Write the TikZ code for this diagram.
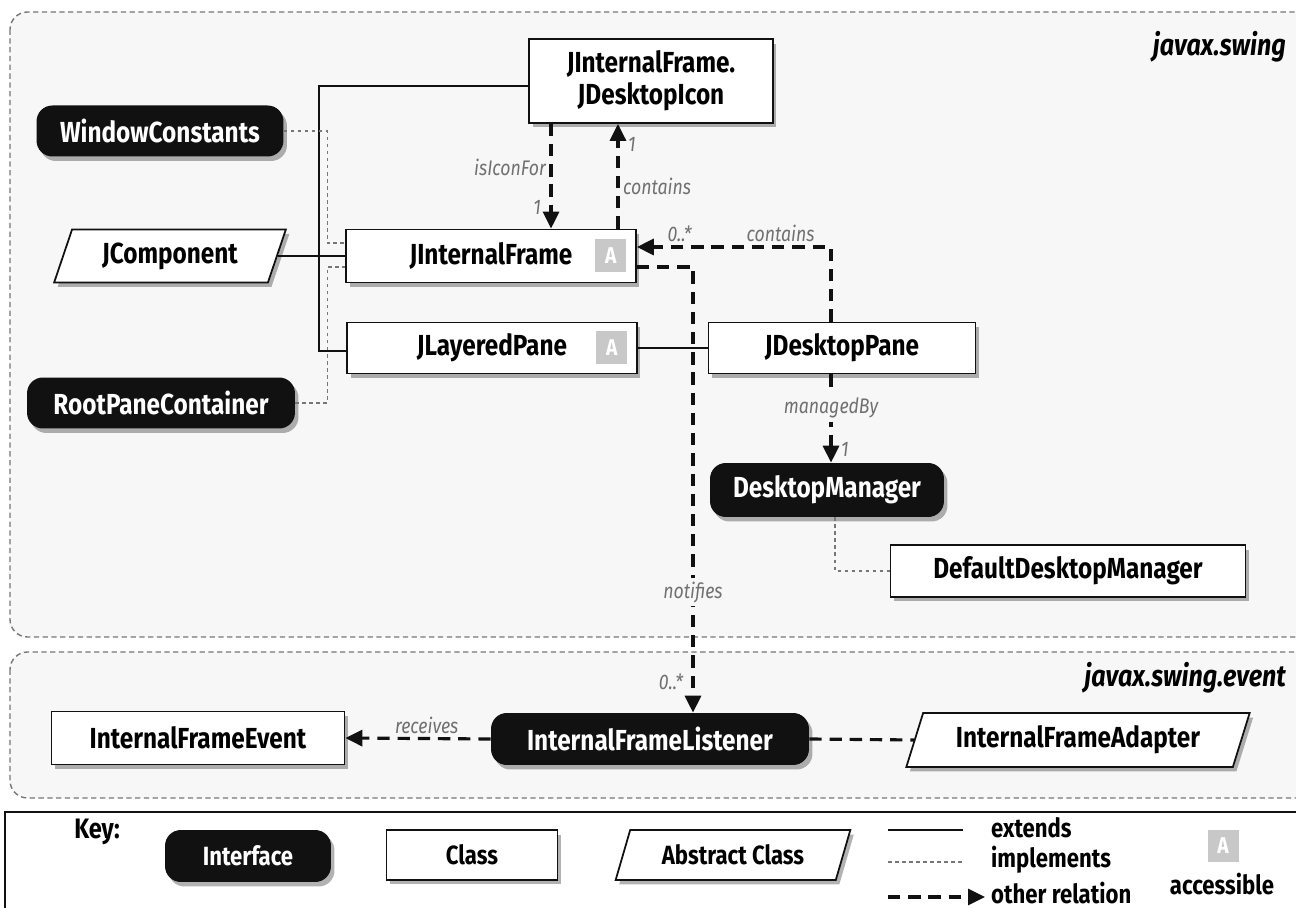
\documentclass[tikz,border=0pt]{standalone}
\usepackage{fontspec}
\setmainfont{Fira Sans}[FakeStretch=0.84]
\usepackage{tikz}
\usetikzlibrary{shapes.geometric, arrows.meta, positioning, calc, shadows}
\definecolor{swingink}{HTML}{111111}
\definecolor{swinglabel}{HTML}{707070}
\definecolor{swingacc}{HTML}{C8C8C8}
\definecolor{swingpkg}{HTML}{F7F7F7}
\definecolor{swingdots}{HTML}{777777}

\tikzset{
    shade/.style={drop shadow={shadow xshift=0.07cm, shadow yshift=-0.09cm, opacity=0.3, fill=black}},
    typename/.style={font=\bfseries\fontsize{16.5}{18}\selectfont, inner sep=2pt},
    iface/.style={typename, shade, fill=swingink, text=white, rounded corners=9pt},
    classbox/.style={typename, shade, draw=swingink, line width=1pt, fill=white},
    abstractbox/.style={typename, shade, draw=swingink, line width=1pt, fill=white, trapezium, trapezium left angle=69, trapezium right angle=111, trapezium stretches=true},
    accbox/.style={fill=swingacc, text=white, font=\bfseries\fontsize{13}{14}\selectfont, minimum width=0.62cm, minimum height=0.66cm, inner sep=0pt},
    extends/.style={draw=swingink, line width=1pt},
    implements/.style={draw=swingdots, line width=0.6pt, dash pattern=on 2pt off 2pt},
    other/.style={draw=swingink, line width=1.8pt, dash pattern=on 7pt off 4.5pt},
    otherarrow/.style={other, -{Triangle[length=0.34cm, width=0.32cm]}},
    rolelabel/.style={font=\itshape\fontsize{12}{14}\selectfont, text=swinglabel, inner sep=2pt},
    pkgname/.style={font=\bfseries\itshape\fontsize{17}{19}\selectfont, anchor=east},
    package/.style={draw=swingdots, line width=0.8pt, dash pattern=on 3pt off 2pt, rounded corners=10pt, fill=swingpkg}
}

\begin{document}
\begin{tikzpicture}[x=0.02cm, y=-0.02cm]
    \useasboundingbox[fill=white] (0,0) rectangle (1296,908);

    % packages
    \draw[package] (10,12) rectangle (1330,637);
    \draw[package] (10,652) rectangle (1330,798);
    \draw[draw=swingink, line width=0.8pt, fill=white] (5,812) rectangle (1330,930);
    \node[pkgname] (pkgswing) at (1292,47) {javax.swing};
    \node[pkgname] (pkgevent) at (1292,678) {javax.swing.event};

    % javax.swing
    \node[classbox, minimum width=4.88cm, minimum height=1.68cm, align=center] (icon) at (651,81) {JInternalFrame.\\JDesktopIcon};
    \node[iface, minimum width=4.94cm, minimum height=1.02cm] (wconst) at (160,131) {WindowConstants};
    \node[abstractbox, minimum width=4.64cm, minimum height=1.06cm] (jcomp) at (170,256) {JComponent};
    \node[classbox, minimum width=5.8cm, minimum height=1.06cm] (iframe) at (491,256) {JInternalFrame};
    \node[accbox] (iframeacc) at ([xshift=-0.52cm]iframe.east) {A};
    \node[classbox, minimum width=5.8cm, minimum height=1.02cm] (lpane) at (492,348) {JLayeredPane};
    \node[accbox] (lpaneacc) at ([xshift=-0.52cm]lpane.east) {A};
    \node[iface, minimum width=5.36cm, minimum height=1.02cm] (rpc) at (161,403) {RootPaneContainer};
    \node[classbox, minimum width=5.34cm, minimum height=1.02cm] (dpane) at (842,348) {JDesktopPane};
    \node[iface, minimum width=4.68cm, minimum height=1.08cm] (dmgr) at (827,490) {DesktopManager};
    \node[classbox, minimum width=7.1cm, minimum height=1.04cm] (ddmgr) at (1068,571) {DefaultDesktopManager};

    % javax.swing.event
    \node[classbox, minimum width=5.86cm, minimum height=1.06cm] (ifevent) at (198,738) {InternalFrameEvent};
    \node[iface, minimum width=6.36cm, minimum height=1.04cm] (iflisten) at (650,739) {InternalFrameListener};
    \node[abstractbox, minimum width=6.88cm, minimum height=1.08cm] (ifadapter) at (1078,740) {InternalFrameAdapter};

    % extends
    \coordinate (trunk) at (319,256);
    \draw[extends] (jcomp.east) -- (iframe.west);
    \draw[extends] ([yshift=-0.1cm]icon.west) -| (trunk) |- ([yshift=-0.06cm]lpane.west);
    \draw[extends] (lpane.east) -- (dpane.west);

    % implements
    \draw[implements] (wconst.east) -| ([xshift=-0.36cm, yshift=0.26cm]iframe.west) -- ([yshift=0.26cm]iframe.west);
    \draw[implements] (rpc.east) -| ([xshift=-0.36cm, yshift=-0.22cm]iframe.west) -- ([yshift=-0.22cm]iframe.west);
    \draw[implements] ([xshift=0.16cm]dmgr.south) |- (ddmgr.west);

    % other relations
    \draw[otherarrow] ([xshift=-2cm]icon.south) -- ([xshift=-2cm]icon.south |- iframe.north)
        node[rolelabel, left, pos=0.42] (lbliconfor) {isIconFor}
        node[rolelabel, left, pos=0.8, xshift=-0.1cm] (multiconfor) {1};
    \draw[otherarrow] ([xshift=2.54cm]iframe.north) -- ([xshift=2.54cm]iframe.north |- icon.south)
        node[rolelabel, right, pos=0.4] (lblcontains) {contains}
        node[rolelabel, right, pos=0.8, xshift=0.1cm] (multcontains) {1};
    \draw[otherarrow] ([xshift=-0.22cm]dpane.north) |- ([yshift=0.18cm]iframe.east)
        node[rolelabel, above, pos=0.63] (lblholds) {contains}
        node[rolelabel, above, pos=0.89] (multholds) {0..*};
    \draw[otherarrow] ([yshift=-0.22cm]iframe.east) -| ([xshift=0.86cm]iflisten.north)
        node[rolelabel, fill=swingpkg, pos=0.865] (lblnotifies) {notifies}
        node[rolelabel, left, pos=0.965, xshift=-0.1cm] (multnotifies) {0..*};
    \draw[otherarrow] ([xshift=-0.22cm]dpane.south) -- ([xshift=-0.22cm]dpane.south |- dmgr.north)
        node[rolelabel, fill=swingpkg, pos=0.38] (lblmanaged) {managedBy}
        node[rolelabel, right, pos=0.85, xshift=0.1cm] (multmanaged) {1};
    \draw[otherarrow] (iflisten.west) -- (ifevent.east)
        node[rolelabel, above, pos=0.44] (lblreceives) {receives};
    \draw[other] (iflisten.east) -- (ifadapter.west);

    % key
    \node[font=\bfseries\fontsize{16}{18}\selectfont] (keytitle) at (97,832) {Key:};
    \node[iface, minimum width=3.32cm, minimum height=1.04cm, font=\bfseries\fontsize{15}{17}\selectfont] (keyiface) at (248,856) {Interface};
    \node[classbox, minimum width=3.42cm, minimum height=1.0cm, font=\bfseries\fontsize{15}{17}\selectfont] (keyclass) at (472,855) {Class};
    \node[abstractbox, minimum width=4.7cm, minimum height=1.0cm, font=\bfseries\fontsize{15}{17}\selectfont] (keyabstract) at (733,855) {Abstract Class};
    \coordinate (extA) at (888,830);
    \coordinate (extB) at (963,830);
    \coordinate (implA) at (888,862);
    \coordinate (implB) at (963,862);
    \coordinate (othA) at (888,897);
    \coordinate (othB) at (985,897);
    \draw[extends] (extA) -- (extB);
    \draw[implements] (implA) -- (implB);
    \draw[otherarrow] (othA) -- (othB);
    \node[font=\bfseries\fontsize{15}{17}\selectfont, anchor=west] (keyextends) at (985,828) {extends};
    \node[font=\bfseries\fontsize{15}{17}\selectfont, anchor=west] (keyimplements) at (985,860) {implements};
    \node[font=\bfseries\fontsize{15}{17}\selectfont, anchor=west] (keyother) at (985,893) {other relation};
    \node[accbox] (keyacc) at (1223,846) {A};
    \node[font=\bfseries\fontsize{15}{17}\selectfont] (keyaccessible) at (1222,884) {accessible};
\end{tikzpicture}
\end{document}
